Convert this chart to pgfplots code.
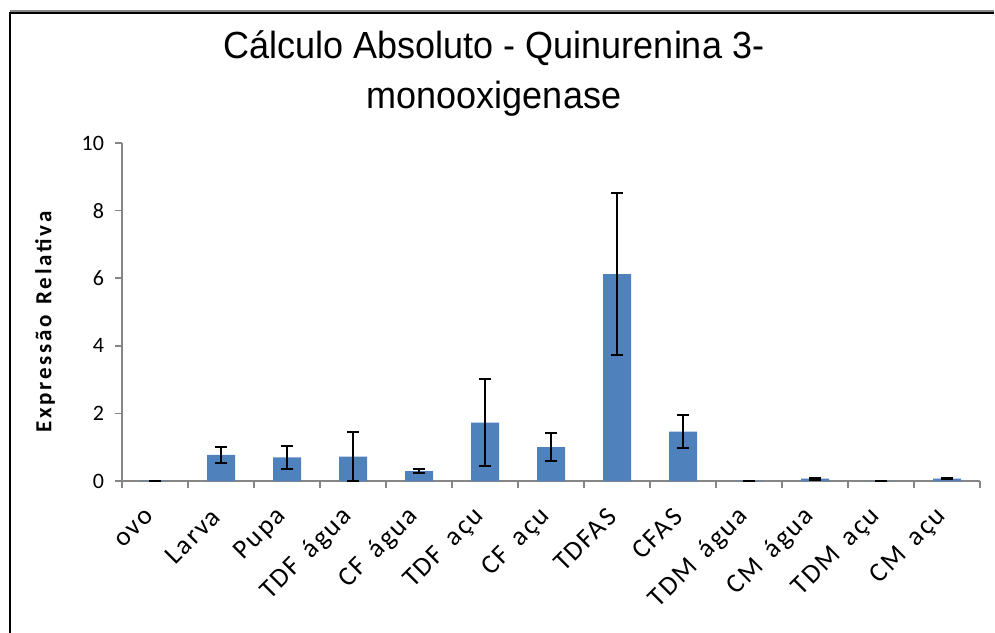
\documentclass[border=0pt]{standalone}
\usepackage{pgfplots}
\pgfplotsset{compat=1.18}
\usepackage{fontspec}
\setmainfont{Liberation Sans}
\newfontfamily\carlito{Carlito}
\newfontfamily\carlitoxs[LetterSpace=7,WordSpace=1.6]{Carlito}
\newfontfamily\carlitosp[LetterSpace=12,WordSpace=1.3]{Carlito}
\definecolor{barblue}{HTML}{4F81BD}
\definecolor{axgray}{HTML}{868686}
\begin{document}
\begin{tikzpicture}
\useasboundingbox (0,0) rectangle (497.5pt,-316pt);
\draw[line width=1pt,black] (5pt,-330pt) -- (5pt,-6.5pt) -- (497pt,-6.5pt);
\draw[line width=0.8pt,axgray] (5pt,-5.5pt) -- (497pt,-5.5pt);
\node[align=center,font=\fontsize{18}{25}\selectfont] at (247pt,-37pt) {\scalebox{1}[1.05]{Cálculo Absoluto - Quinurenina 3-}\\\scalebox{1}[1.05]{monooxigenase}};
\node[rotate=90,font=\carlitosp\bfseries\fontsize{11.5}{13}\selectfont] at (22.5pt,-161pt) {Expressão Relativa};
\begin{axis}[
  at={(61pt,-240.5pt)}, anchor=south west,
  scale only axis, width=429pt, height=169pt,
  xmin=-0.5, xmax=12.5, ymin=0, ymax=10,
  axis x line*=bottom, axis y line*=left,
  axis line style={axgray,line width=0.8pt,-},
  ytick={0,2,...,10},
  xtick={0,...,12},
  xticklabels={ovo,Larva,Pupa,TDF água,CF água,TDF açu,CF açu,TDFAS,CFAS,TDM água,CM água,TDM açu,CM açu},
  minor xtick={-0.5,0.5,...,12.5},
  tick align=outside,
  major tick length=3.5pt, minor tick length=3.5pt,
  major x tick style={draw=none},
  every minor x tick/.style={axgray,line width=0.8pt},
  every major y tick/.style={axgray,line width=0.8pt},
  yticklabel style={font=\carlito\fontsize{11}{13}\selectfont, xshift=-2pt},
  /pgf/number format/assume math mode=true,
  xticklabel style={font=\carlitoxs\fontsize{13.5}{15}\selectfont, rotate=45, anchor=east, xshift=-7pt, yshift=-7pt},
  clip=false,
]
\addplot[ybar, bar width=14pt, fill=barblue, draw=none,
  error bars/.cd, y dir=both, y explicit,
  error bar style={line width=1pt,black},
  error mark options={rotate=90,mark size=3pt,line width=1pt,black}]
  table[x=x,y=y,y error=e] {
x y e
0 0.01 0.005
1 0.77 0.23
2 0.70 0.35
3 0.72 0.73
4 0.29 0.06
5 1.73 1.28
6 1.00 0.42
7 6.12 2.40
8 1.46 0.48
9 0.01 0.005
10 0.07 0.03
11 0.005 0.003
12 0.07 0.02
};
\end{axis}
\end{tikzpicture}
\end{document}
